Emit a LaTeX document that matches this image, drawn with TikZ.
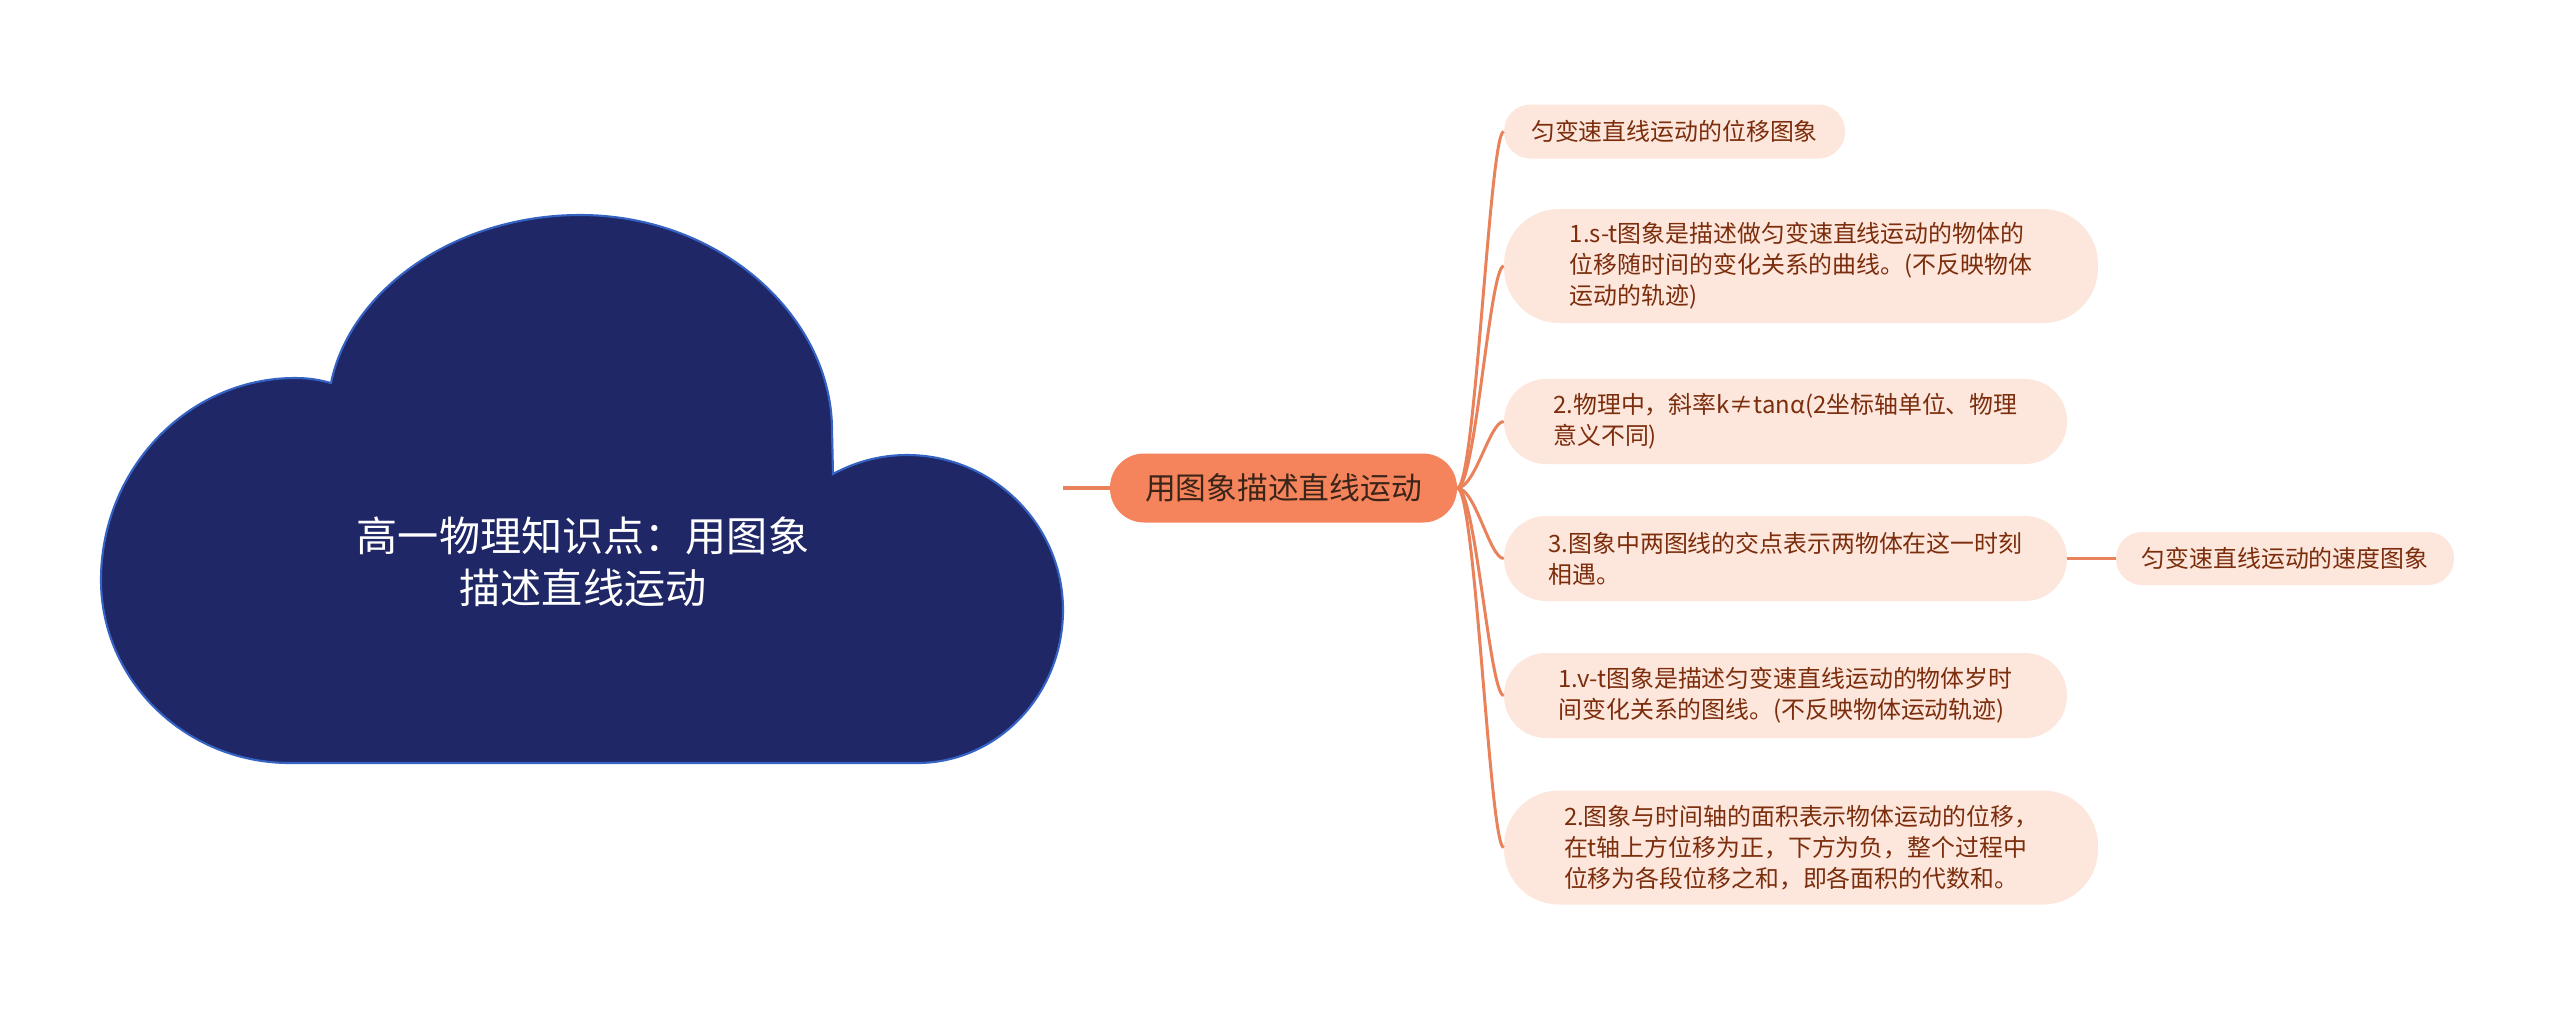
\documentclass[tikz,border=0pt]{standalone}
\usepackage{fontspec}
\newfontfamily\cjk{Noto Sans CJK SC}
\definecolor{cloudfill}{HTML}{1F2766}
\definecolor{cloudline}{HTML}{3563C4}
\definecolor{linkc}{HTML}{E9825B}
\definecolor{mainfill}{HTML}{F5845C}
\definecolor{pillfill}{HTML}{FDE6DC}
\definecolor{pilltext}{HTML}{7B2D0C}
\definecolor{maintext}{HTML}{3B2418}
\tikzset{
  pill/.style={fill=pillfill, text=pilltext, align=left, inner sep=0pt,
    font=\cjk\fontsize{13.6pt}{17.7pt}\selectfont},
  mainbox/.style={fill=mainfill, text=maintext, inner sep=0pt, minimum width=6.94cm,
    minimum height=1.38cm, rounded corners=0.68cm,
    font=\cjk\fontsize{17.5pt}{21pt}\selectfont},
  branch/.style={draw=linkc, line width=1.7pt},
  rootlink/.style={draw=linkc, line width=2.8pt},
}
\begin{document}
\begin{tikzpicture}[x=0.02cm, y=-0.02cm]
\useasboundingbox (0,0) rectangle (2560,1009);
\fill[white] (0,0) rectangle (2560,1009);
% cloud
\draw[fill=cloudfill, draw=cloudline, line width=1.2pt]
  (290,763) .. controls (186,763) and (101,681) .. (101,580)
  .. controls (101,469) and (188,378) .. (295,378)
  .. controls (310,378) and (320,380) .. (331,383)
  .. controls (350,290) and (455,215) .. (580,215)
  .. controls (722,215) and (832,318) .. (832,430)
  -- (833,474)
  .. controls (855,462) and (880,455) .. (907,455)
  .. controls (993,455) and (1063,525) .. (1063,610)
  .. controls (1063,694) and (998,763) .. (917,763)
  -- cycle;
\node[text=white, align=center, font=\cjk\fontsize{23.4pt}{30pt}\selectfont] (root) at (583,562)
  {高一物理知识点：用图象\\描述直线运动};
\coordinate (rootout) at (1063,488);
% main topic
\node[mainbox] (M) at (1283.5,488) {用图象描述直线运动};
% children
\node[pill, minimum width=6.82cm, minimum height=1.08cm, rounded corners=0.53cm] (A) at (1674.5,131.5)
  {匀变速直线运动的位移图象};
\node[pill, minimum width=11.88cm, minimum height=2.28cm, rounded corners=1.1cm] (B) at (1801,266)
  {1.s-t图象是描述做匀变速直线运动的物体的\\位移随时间的变化关系的曲线。(不反映物体\\运动的轨迹)};
\node[pill, minimum width=11.26cm, minimum height=1.7cm, rounded corners=0.84cm] (C) at (1785.5,421.5)
  {2.物理中，斜率k≠tanα(2坐标轴单位、物理\\意义不同)};
\node[pill, minimum width=11.26cm, minimum height=1.7cm, rounded corners=0.84cm] (D) at (1785.5,558.5)
  {3.图象中两图线的交点表示两物体在这一时刻\\相遇。};
\node[pill, minimum width=11.26cm, minimum height=1.7cm, rounded corners=0.84cm] (E) at (1785.5,695.5)
  {1.v-t图象是描述匀变速直线运动的物体岁时\\间变化关系的图线。(不反映物体运动轨迹)};
\node[pill, minimum width=11.88cm, minimum height=2.28cm, rounded corners=1.1cm] (F) at (1801,847.5)
  {2.图象与时间轴的面积表示物体运动的位移，\\在t轴上方位移为正，下方为负，整个过程中\\位移为各段位移之和，即各面积的代数和。};
\node[pill, minimum width=6.76cm, minimum height=1.06cm, rounded corners=0.52cm] (G) at (2285,558.5)
  {匀变速直线运动的速度图象};
% connectors
\draw[rootlink] (rootout) -- (M.west);
\foreach \c in {A,B,C,D,E,F}{
  \draw[branch] (M.east) .. controls +(18,0) and +(-14,0) .. (\c.west);
}
\draw[branch] (D.east) -- (G.west);
\end{tikzpicture}
\end{document}
